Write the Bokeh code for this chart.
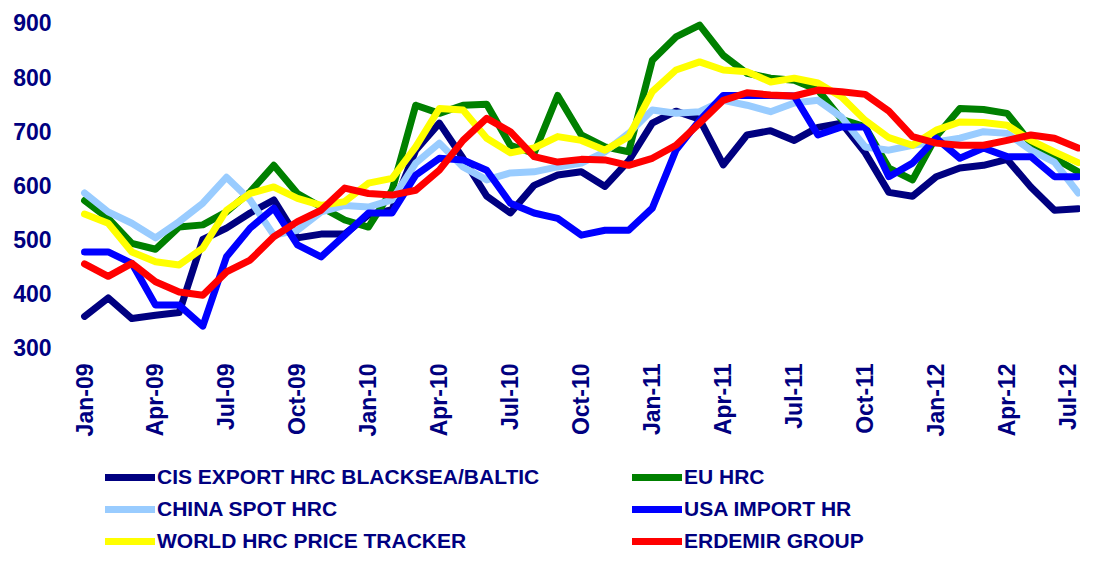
import math
from bokeh.plotting import figure
from bokeh.layouts import column
from bokeh.models import FixedTicker, Legend, LegendItem, Range1d
from bokeh.embed import file_html
from bokeh.resources import INLINE

months = ["Jan-09", "Feb-09", "Mar-09", "Apr-09", "May-09", "Jun-09", "Jul-09", "Aug-09", "Sep-09", "Oct-09", "Nov-09", "Dec-09",
          "Jan-10", "Feb-10", "Mar-10", "Apr-10", "May-10", "Jun-10", "Jul-10", "Aug-10", "Sep-10", "Oct-10", "Nov-10", "Dec-10",
          "Jan-11", "Feb-11", "Mar-11", "Apr-11", "May-11", "Jun-11", "Jul-11", "Aug-11", "Sep-11", "Oct-11", "Nov-11", "Dec-11",
          "Jan-12", "Feb-12", "Mar-12", "Apr-12", "May-12", "Jun-12", "Jul-12"]
tick_labels = ["Jan-09", "Apr-09", "Jul-09", "Oct-09", "Jan-10", "Apr-10", "Jul-10", "Oct-10",
               "Jan-11", "Apr-11", "Jul-11", "Oct-11", "Jan-12", "Apr-12", "Jul-12"]
y_ticks = [300, 400, 500, 600, 700, 800, 900]

cis = [358, 392, 354, 360, 365, 500, 521, 549, 573, 503, 510, 510, 545, 555, 665, 715, 650, 580, 549, 600, 619, 625, 598, 645,
       715, 737, 722, 638, 693, 701, 683, 707, 715, 660, 587, 580, 616, 632, 637, 648, 597, 554, 557]
eu = [572, 539, 493, 482, 523, 527, 551, 588, 637, 585, 560, 536, 523, 591, 748, 733, 748, 750, 674, 659, 766, 693, 671, 662,
      831, 874, 896, 840, 807, 798, 794, 776, 722, 708, 632, 610, 690, 742, 740, 733, 678, 650, 625]
china = [586, 551, 530, 503, 533, 567, 615, 573, 508, 517, 551, 563, 560, 573, 641, 678, 634, 610, 623, 625, 634, 641, 662, 696,
         739, 733, 736, 757, 748, 736, 752, 757, 726, 671, 665, 674, 680, 687, 699, 696, 665, 643, 586]
usa = [477, 477, 456, 379, 379, 340, 468, 521, 558, 490, 468, 508, 549, 549, 619, 650, 647, 628, 567, 549, 539, 508, 517, 517,
       558, 665, 720, 766, 766, 766, 765, 693, 708, 708, 616, 641, 687, 650, 669, 653, 653, 616, 616]
world = [547, 530, 477, 459, 453, 484, 554, 585, 597, 576, 563, 570, 604, 613, 671, 742, 739, 687, 660, 669, 690, 683, 665, 690,
         773, 813, 828, 813, 810, 791, 798, 789, 763, 720, 688, 674, 702, 717, 716, 711, 683, 662, 642]
erdemir = [455, 432, 456, 422, 403, 397, 440, 462, 505, 533, 554, 595, 585, 582, 591, 628, 683, 724, 699, 653, 643, 648, 647, 637,
           650, 674, 715, 757, 771, 767, 765, 776, 773, 768, 737, 690, 678, 674, 674, 683, 693, 687, 669]

series_names = ["CIS EXPORT HRC BLACKSEA/BALTIC", "EU HRC", "CHINA SPOT HRC", "USA IMPORT HR",
                "WORLD HRC PRICE TRACKER", "ERDEMIR GROUP"]
series_values = [cis, eu, china, usa, world, erdemir]
series_colors = ["#000080", "#008000", "#99CCFF", "#0000FF", "#FFFF00", "#FF0000"]

NAVY = "#000080"
FONT = "Liberation Sans"
LW = 7

x = list(range(len(months)))

# ---- main chart ----
p = figure(frame_width=1000, frame_height=333,
           x_range=Range1d(-0.17, 42.1), y_range=Range1d(295, 910),
           output_backend="svg", toolbar_location=None,
           min_border_left=80, min_border_right=0, min_border_top=17, min_border_bottom=100)
p.outline_line_color = None
p.xgrid.visible = False
p.ygrid.visible = False
p.background_fill_color = "white"
p.border_fill_color = "white"

tick_pos = [months.index(t) for t in tick_labels]
p.xaxis.ticker = FixedTicker(ticks=tick_pos)
p.xaxis.major_label_overrides = {i: months[i] for i in tick_pos}
p.xaxis.major_label_orientation = math.pi / 2
p.yaxis.ticker = FixedTicker(ticks=y_ticks)

for ax in (p.xaxis[0], p.yaxis[0]):
    ax.axis_line_color = None
    ax.major_tick_line_color = None
    ax.minor_tick_line_color = None
    ax.major_tick_out = 0
    ax.major_tick_in = 0
    ax.major_label_text_font = FONT
    ax.major_label_text_font_style = "bold"
    ax.major_label_text_font_size = "23px"
    ax.major_label_text_color = NAVY
p.xaxis.major_label_standoff = 13
p.yaxis.major_label_standoff = 29

for vals, col in zip(series_values, series_colors):
    p.line(x, vals, line_color=col, line_width=LW, line_join="round", line_cap="round")

# ---- legend strip below ----
q = figure(width=1080, height=104, output_backend="svg", toolbar_location=None,
           x_range=Range1d(0, 1), y_range=Range1d(0, 1),
           x_axis_type=None, y_axis_type=None,
           min_border_left=0, min_border_right=0, min_border_top=0, min_border_bottom=0)
q.outline_line_color = None
q.xgrid.visible = False
q.ygrid.visible = False
q.border_fill_color = "white"

nan = float("nan")
items = []
for name, col in zip(series_names, series_colors):
    r = q.line(x=[nan], y=[nan], line_color=col, line_width=LW, line_join="round", line_cap="round")
    items.append(LegendItem(label=name, renderers=[r]))

legend = Legend(items=items, orientation="horizontal", ncols=2, location=(25, 0),
                glyph_width=50, glyph_height=26, label_height=26, label_width=469,
                label_standoff=2, spacing=6, padding=0, margin=0,
                border_line_color=None, background_fill_alpha=0,
                label_text_font=FONT, label_text_font_style="bold",
                label_text_font_size="21px", label_text_color=NAVY)
q.add_layout(legend)

layout = column(p, q, spacing=0)
open("out.html", "w").write(file_html(layout, INLINE))
